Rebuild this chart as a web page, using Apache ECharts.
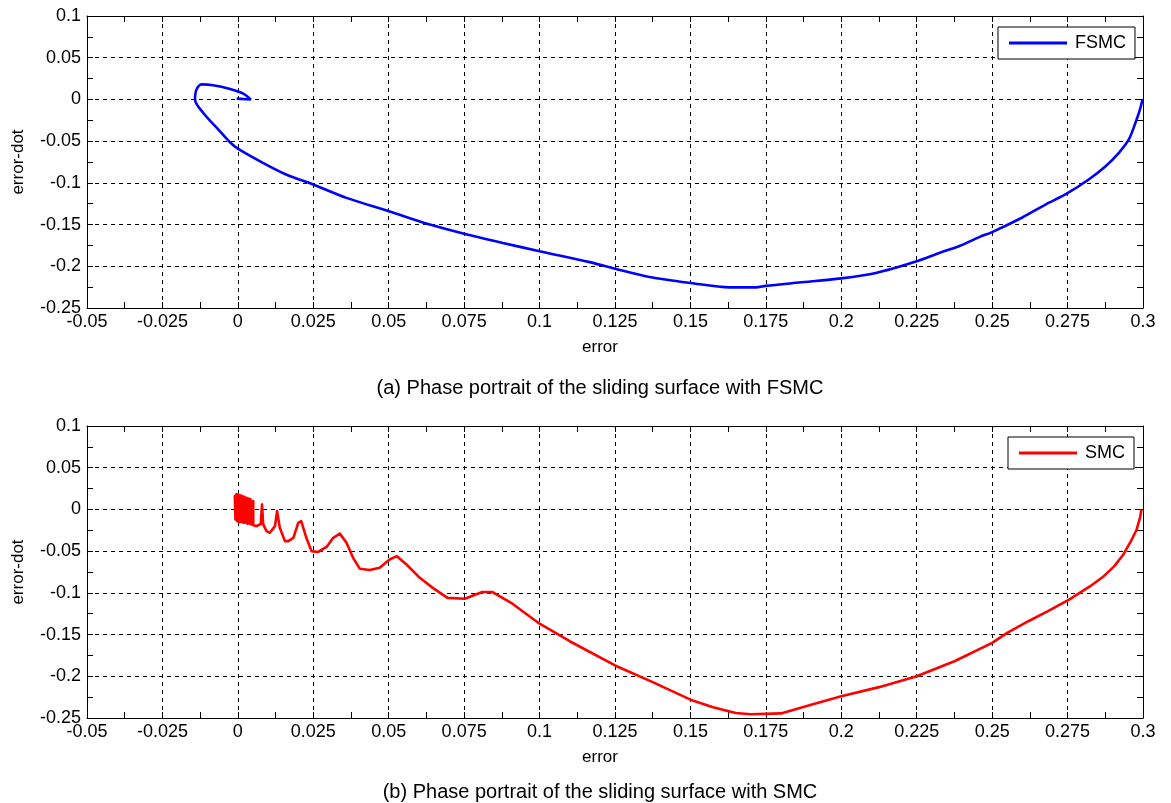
<!DOCTYPE html>
<html><head><meta charset="utf-8">
<script src="https://cdn.jsdelivr.net/npm/echarts@6/dist/echarts.min.js"></script>
<style>html,body{margin:0;padding:0;background:#fff}#c{width:1171px;height:803px}</style>
</head><body><div id="c"></div>
<script>
// ---- axis ranges / ticks ----
const X_MIN = -0.05, X_MAX = 0.3, X_STEP = 0.025;
const Y_MIN = -0.25, Y_MAX = 0.1, Y_STEP = 0.05;
const xAxisName = 'error';
const yAxisName = 'error-dot';
const captions = ['(a) Phase portrait of the sliding surface with FSMC', '(b) Phase portrait of the sliding surface with SMC'];
const seriesNames = ['FSMC', 'SMC'];

// ---- FSMC trajectory (error, error-dot) ----
const fsmcError = [0.2998, 0.299, 0.2975, 0.2953, 0.292, 0.2876, 0.282, 0.2747, 0.2677, 0.26, 0.25, 0.2457, 0.239, 0.2325, 0.225, 0.2115, 0.2, 0.186, 0.175, 0.1717, 0.163, 0.15, 0.1364, 0.125, 0.1166, 0.1, 0.0878, 0.075, 0.0636, 0.05, 0.036, 0.025, 0.016, 0.0083, 0, -0.0027, -0.006, -0.0115, -0.0142, -0.0137, -0.012, -0.0082, -0.0026, 0.0018, 0.0043, -0.0004];
const fsmcErrorDot = [0, -0.012, -0.028, -0.048, -0.064, -0.080, -0.096, -0.113, -0.126, -0.1415, -0.159, -0.165, -0.176, -0.184, -0.194, -0.208, -0.2145, -0.2195, -0.2235, -0.2253, -0.2253, -0.220, -0.2128, -0.203, -0.195, -0.182, -0.172, -0.161, -0.15, -0.134, -0.118, -0.102, -0.090, -0.076, -0.059, -0.051, -0.038, -0.016, 0, 0.012, 0.018, 0.017, 0.0125, 0.007, 0.0, 0.001];

// ---- SMC trajectory (error, error-dot) ----
const smcError = [0.2995, 0.299, 0.2978, 0.296, 0.2935, 0.2905, 0.287, 0.2825, 0.2755, 0.2685, 0.262, 0.255, 0.25, 0.2375, 0.225, 0.2125, 0.2, 0.19, 0.18, 0.17, 0.165, 0.1575, 0.15, 0.1375, 0.125, 0.11, 0.1, 0.091, 0.0844, 0.081, 0.0752, 0.0695, 0.0646, 0.0603, 0.0559, 0.0527, 0.0503, 0.047, 0.0437, 0.0404, 0.0382, 0.036, 0.0338, 0.0316, 0.0294, 0.0266, 0.0244, 0.0227, 0.021, 0.02, 0.0184, 0.0167, 0.0156, 0.0139, 0.013, 0.0123, 0.0106, 0.0095, 0.0084, 0.008, 0.0076, 0.0062, 0.0051, 0.0051, 0.0045,
  0.0042, 0.0039, 0.0036, 0.0032, 0.0029, 0.0025, 0.0022, 0.0018, 0.0015, 0.0011, 0.0008, 0.0004, 0.0001, -0.0002, -0.0005, -0.0008, -0.001, -0.0006, -0.0003, 0, 0.0002, 0];
const smcErrorDot = [0, -0.01, -0.025, -0.038, -0.054, -0.068, -0.08, -0.092, -0.108, -0.122, -0.134, -0.148, -0.16, -0.182, -0.2, -0.213, -0.224, -0.234, -0.2445, -0.2455, -0.244, -0.237, -0.228, -0.207, -0.187, -0.158, -0.137, -0.113, -0.099, -0.099, -0.107, -0.106, -0.094, -0.082, -0.066, -0.056, -0.06, -0.07, -0.0727, -0.071, -0.058, -0.04, -0.029, -0.034, -0.045, -0.051, -0.05, -0.034, -0.014, -0.016, -0.034, -0.038, -0.038, -0.022, -0.002, -0.020, -0.028, -0.026, -0.018, 0.006, -0.0175, -0.020, -0.019, 0.010, -0.018,
  0.012, -0.017, 0.013, -0.017, 0.014, -0.016, 0.015, -0.016, 0.016, -0.015, 0.017, -0.015, 0.018, -0.014, 0.018, -0.012, 0.016, -0.01, 0.012, -0.006, 0.006, 0];

const FONT = '"Liberation Sans", Arial, sans-serif';
const pairs = (xs, ys) => xs.map((x, i) => [x, ys[i]]);

const grids = [
  {left: 87, top: 16, width: 1056, height: 292},
  {left: 87, top: 426, width: 1056, height: 292}
];

const lineBlack = {color: '#000', width: 1};
function xAxes(gi) {
  const base = {type: 'value', gridIndex: gi, min: X_MIN, max: X_MAX, interval: X_STEP,
    axisLine: {show: true, onZero: false, lineStyle: lineBlack},
    axisTick: {show: true, inside: true, length: 6, lineStyle: lineBlack},
    minorTick: {show: true, splitNumber: 2, length: 6, lineStyle: lineBlack}};
  return [
    Object.assign({}, base, {position: 'bottom',
      axisLabel: {show: true, margin: 5, color: '#000', fontSize: 18, fontFamily: FONT, showMinLabel: true, showMaxLabel: true},
      splitLine: {show: true, lineStyle: {color: '#000', width: 1, type: [4, 4]}},
      name: xAxisName, nameLocation: 'middle', nameGap: 31,
      nameTextStyle: {color: '#000', fontSize: 17, fontFamily: FONT, padding: [0, 30, 0, 0]}}),
    Object.assign({}, base, {position: 'top', axisLabel: {show: false}, splitLine: {show: false}})
  ];
}
function yAxes(gi) {
  const base = {type: 'value', gridIndex: gi, min: Y_MIN, max: Y_MAX, interval: Y_STEP,
    axisLine: {show: true, onZero: false, lineStyle: lineBlack},
    axisTick: {show: true, inside: true, length: 6, lineStyle: lineBlack},
    minorTick: {show: true, splitNumber: 2, length: 6, lineStyle: lineBlack}};
  return [
    Object.assign({}, base, {position: 'left',
      axisLabel: {show: true, margin: 6, color: '#000', fontSize: 18, fontFamily: FONT, showMinLabel: true, showMaxLabel: true},
      splitLine: {show: true, lineStyle: {color: '#000', width: 1, type: [4, 4]}},
      name: yAxisName, nameLocation: 'middle', nameGap: 60,
      nameTextStyle: {color: '#000', fontSize: 17, fontFamily: FONT}}),
    Object.assign({}, base, {position: 'right', axisLabel: {show: false}, splitLine: {show: false}})
  ];
}

const legendBase = {orient: 'horizontal', borderColor: '#000', borderWidth: 1, backgroundColor: '#fff',
  borderRadius: 0, itemWidth: 58, itemHeight: 3, itemGap: 0,
  textStyle: {fontSize: 18, color: '#000', fontFamily: FONT, padding: [0, 0, 0, 3]}};

const option = {
  animation: false,
  backgroundColor: '#fff',
  grid: grids.map(g => Object.assign({containLabel: false, outerBoundsMode: 'none'}, g)),
  xAxis: xAxes(0).concat(xAxes(1)),
  yAxis: yAxes(0).concat(yAxes(1)),
  legend: [
    Object.assign({}, legendBase, {data: [{name: seriesNames[0], icon: 'rect'}], left: 998, top: 27, padding: [7, 9, 7, 11]}),
    Object.assign({}, legendBase, {data: [{name: seriesNames[1], icon: 'rect'}], left: 1008, top: 437, padding: [7, 9, 7, 11]})
  ],
  series: [
    {type: 'line', name: seriesNames[0], xAxisIndex: 0, yAxisIndex: 0, data: pairs(fsmcError, fsmcErrorDot),
      smooth: 0.3, symbol: 'none', showSymbol: false, lineStyle: {color: '#0000ff', width: 2.6}, itemStyle: {color: '#0000ff'}},
    {type: 'line', name: seriesNames[1], xAxisIndex: 2, yAxisIndex: 2, data: pairs(smcError, smcErrorDot),
      symbol: 'none', showSymbol: false, lineStyle: {color: '#ff0000', width: 2.6, join: 'round'}, itemStyle: {color: '#ff0000'}}
  ],
  graphic: [
    {type: 'text', x: 600, y: 388, style: {text: captions[0], align: 'center', verticalAlign: 'middle', fill: '#000', font: '20px ' + FONT}},
    {type: 'text', x: 600, y: 792, style: {text: captions[1], align: 'center', verticalAlign: 'middle', fill: '#000', font: '20px ' + FONT}}
  ]
};
const chart = echarts.init(document.getElementById('c'), null, {renderer: 'canvas'});
chart.setOption(option);
</script>
</body></html>
